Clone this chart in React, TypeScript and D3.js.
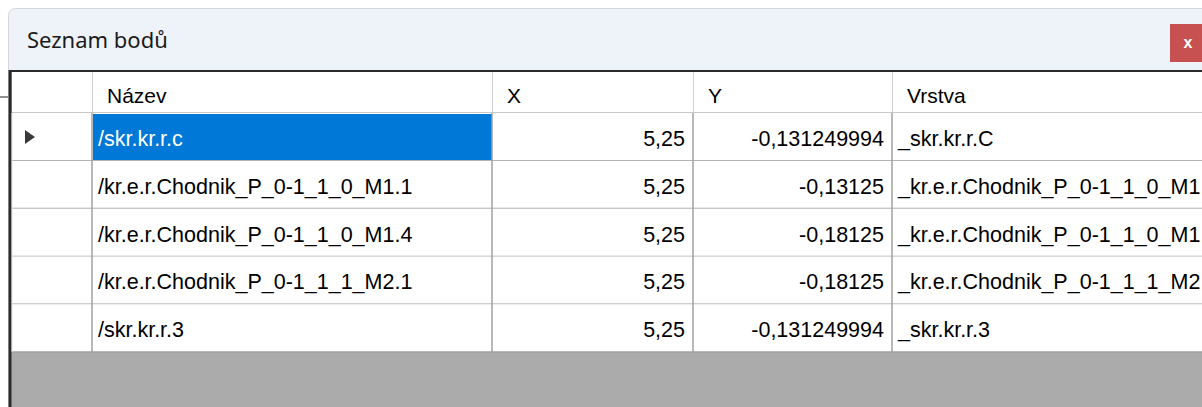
import { scaleBand, scaleOrdinal } from "d3";

const title = "Seznam bodů";
const columns = ["", "Název", "X", "Y", "Vrstva"];
const names = [
  "/skr.kr.r.c",
  "/kr.e.r.Chodnik_P_0-1_1_0_M1.1",
  "/kr.e.r.Chodnik_P_0-1_1_0_M1.4",
  "/kr.e.r.Chodnik_P_0-1_1_1_M2.1",
  "/skr.kr.r.3",
];
const xValues = ["5,25", "5,25", "5,25", "5,25", "5,25"];
const yValues = ["-0,131249994", "-0,13125", "-0,18125", "-0,18125", "-0,131249994"];
const layers = [
  "_skr.kr.r.C",
  "_kr.e.r.Chodnik_P_0-1_1_0_M1.1",
  "_kr.e.r.Chodnik_P_0-1_1_0_M1.4",
  "_kr.e.r.Chodnik_P_0-1_1_1_M2.1",
  "_skr.kr.r.3",
];
const selectedRow = 0;

export default function App() {
  const W = 1202;
  const H = 407;
  const gridTop = 72;
  const headerH = 41;
  const rowsTop = gridTop + headerH;
  const rowH = 47.8;

  const colStart = scaleOrdinal<string, number>()
    .domain(columns)
    .range([12, 92, 492, 693, 892]);
  const colEnd = scaleOrdinal<string, number>()
    .domain(columns)
    .range([92, 492, 693, 892, 1240]);

  const rowIdx = names.map((_, i) => String(i));
  const yRow = scaleBand()
    .domain(rowIdx)
    .range([rowsTop, rowsTop + rowH * names.length])
    .paddingInner(0);

  const gridBottom = rowsTop + rowH * names.length;
  const cellFont = "'Liberation Sans', Arial, sans-serif";
  const titleFont = "'Noto Sans', 'Open Sans', sans-serif";
  const lineCol = "#a0a0a0";

  const cellText = (col: string, i: number) => {
    if (col === "Název") return names[i];
    if (col === "X") return xValues[i];
    if (col === "Y") return yValues[i];
    if (col === "Vrstva") return layers[i];
    return "";
  };

  return (
    <svg
      width={W}
      height={H}
      style={{ position: "absolute", left: 0, top: 0, display: "block" }}
      fontFamily={cellFont}
    >
      <rect x={0} y={0} width={W} height={H} fill="#ffffff" />
      {/* window frame + title bar */}
      <rect x={8.5} y={8.5} width={W} height={H} rx={7} fill="#eef2f9" stroke="#d4d6da" />
      <text x={27} y={48} fontSize={22} fill="#1b1b1b" fontFamily={titleFont}>
        {title}
      </text>
      <rect x={1170} y={24} width={40} height={38} fill="#c75050" />
      <text x={1188} y={48} fontSize={16} fontWeight="bold" fill="#ffffff" textAnchor="middle">
        x
      </text>

      {/* grid client area */}
      <rect x={9} y={gridTop - 2} width={W} height={H} fill="#ababab" />
      <line x1={9} y1={gridTop - 1} x2={W} y2={gridTop - 1} stroke="#2b2b2b" strokeWidth={2} />
      <line x1={10} y1={gridTop - 2} x2={10} y2={H} stroke="#2b2b2b" strokeWidth={3} />
      <line x1={0} y1={97} x2={8} y2={97} stroke="#222" strokeWidth={1} />

      {/* header row */}
      <rect x={12} y={gridTop} width={W} height={headerH} fill="#ffffff" />
      {columns.map((c) => (
        <g key={`h-${c}`}>
          <text x={colStart(c) + 15} y={gridTop + 31} fontSize={21} fill="#000">
            {c}
          </text>
          {c !== "" && (
            <line
              x1={colStart(c) + 0.5}
              y1={gridTop}
              x2={colStart(c) + 0.5}
              y2={rowsTop}
              stroke="#d0d0d0"
            />
          )}
        </g>
      ))}
      <line x1={12} y1={rowsTop - 0.5} x2={W} y2={rowsTop - 0.5} stroke="#c8c8c8" />

      {/* data rows */}
      {rowIdx.map((r, i) => {
        const y0 = yRow(r) ?? 0;
        const h = yRow.bandwidth();
        return (
          <g key={`r-${r}`}>
            <rect x={12} y={y0} width={W} height={h} fill="#ffffff" />
            {i === selectedRow && (
              <>
                <rect
                  x={colStart("Název") + 1}
                  y={y0 + 1}
                  width={colEnd("Název") - colStart("Název") - 1}
                  height={h - 1.5}
                  fill="#0078d7"
                />
                <path
                  d={`M${25},${y0 + h / 2 - 7} L${35},${y0 + h / 2} L${25},${y0 + h / 2 + 7} Z`}
                  fill="#3a3a3a"
                />
              </>
            )}
            {columns.slice(1).map((c) => {
              const numeric = c === "X" || c === "Y";
              return (
                <text
                  key={`c-${r}-${c}`}
                  x={numeric ? colEnd(c) - 8 : colStart(c) + 6}
                  y={y0 + h / 2 + 9}
                  fontSize={21.5}
                  textAnchor={numeric ? "end" : "start"}
                  fill={i === selectedRow && c === "Název" ? "#ffffff" : "#000000"}
                >
                  {cellText(c, i)}
                </text>
              );
            })}
            <line x1={12} y1={y0 + h} x2={W} y2={y0 + h} stroke={lineCol} strokeWidth={1.5} />
          </g>
        );
      })}

      {/* column separators */}
      {columns.slice(1).map((c) => (
        <line
          key={`v-${c}`}
          x1={colStart(c)}
          y1={rowsTop}
          x2={colStart(c)}
          y2={gridBottom}
          stroke={lineCol}
          strokeWidth={1.5}
        />
      ))}
      <line x1={12} y1={rowsTop} x2={12} y2={gridBottom} stroke="#e6e6e6" />
    </svg>
  );
}
